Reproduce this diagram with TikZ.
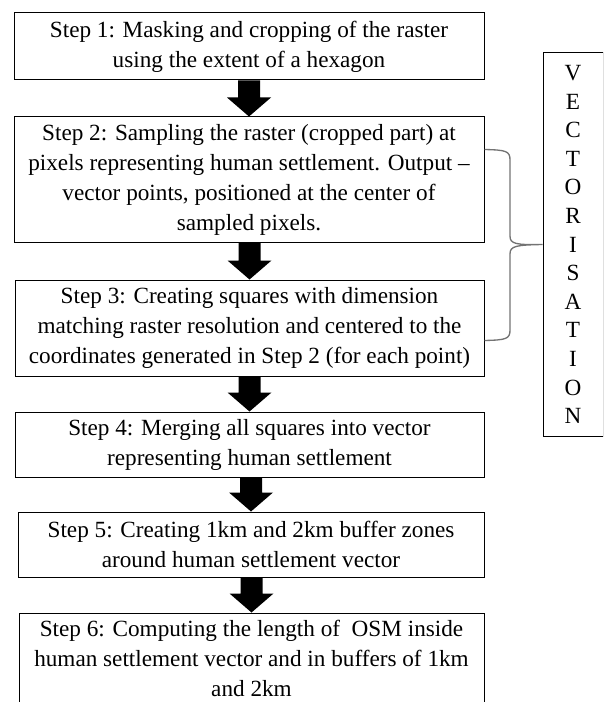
\documentclass[tikz,border=0pt]{standalone}
\usepackage{fontspec}
\setmainfont{Liberation Serif}
\usetikzlibrary{calc}

\tikzset{every picture/.style={line width=0.75pt}}

\begin{document}
\begin{tikzpicture}[x=0.75pt,y=0.75pt,yscale=-1,xscale=1,
		stepbox/.style={draw, align=center, inner sep=0pt, font={\fontsize{17.4pt}{22.5pt}\selectfont}},
		sidebox/.style={draw, align=center, inner sep=0pt, font={\fontsize{17.4pt}{21.45pt}\selectfont}},
		flowarrow/.style={fill=black},
		bracket/.style={draw=black!55, line width=1pt}]
		%set diagram size 603 x 702
		\path[use as bounding box, clip] (0,0) rectangle (603,702);
		
		% Text Node
		\node[stepbox, minimum width=352.5pt, minimum height=50.25pt] (s1) at (249,46.5) {Step 1: Masking and cropping of the raster\\using the extent of a hexagon};
		% Text Node
		\node[stepbox, minimum width=352.5pt, minimum height=93.75pt] (s2) at (249,179.5) {Step 2: Sampling the raster (cropped part) at\\pixels representing human settlement. Output --\\vector points, positioned at the center of\\sampled pixels.};
		% Text Node
		\node[stepbox, minimum width=351.75pt, minimum height=72pt] (s3) at (249.5,328) {Step 3: Creating squares with dimension\\matching raster resolution and centered to the\\coordinates generated in Step 2 (for each point)};
		% Text Node
		\node[stepbox, minimum width=351.75pt, minimum height=48.75pt] (s4) at (249.5,444.5) {Step 4: Merging all squares into vector\\representing human settlement};
		% Text Node
		\node[stepbox, minimum width=349.5pt, minimum height=48.75pt] (s5) at (251,544.5) {Step 5: Creating 1km and 2km buffer zones\\around human settlement vector};
		% Text Node
		\node[stepbox, minimum width=348.75pt, minimum height=67.5pt] (s6) at (251.5,658) {Step 6: Computing the length of \ OSM inside\\human settlement vector and in buffers of 1km\\and 2km};
		
		% Text Node
		\node[sidebox, minimum width=45pt, minimum height=287.25pt] (vec) at (573,244.5) {V\\E\\C\\T\\O\\R\\I\\S\\A\\T\\I\\O\\N};
		
		%Block Arrows
		\foreach \a/\b in {s1/s2, s2/s3, s3/s4, s4/s5, s5/s6}
		\fill[flowarrow] ($(\a.south -| \b.north)+(-11,0)$) -- ($(\a.south -| \b.north)+(11,0)$) -- ($(\b.north)+(11,-19)$) -- ($(\b.north)+(22,-19)$) -- (\b.north) -- ($(\b.north)+(-22,-19)$) -- ($(\b.north)+(-11,-19)$) -- cycle ;
		
		%Right Brace
		\coordinate (bt) at ($(s2.north east)+(0,33)$);
		\coordinate (bb) at ($(s3.south east)+(0,-36)$);
		\draw[bracket] (bt) .. controls (506,150) and (510,151) .. (510,160) -- (510,236) .. controls (510,244) and (516,245) .. (vec.west) .. controls (516,245) and (510,246) .. (510,254) -- (510,330) .. controls (510,339) and (506,340) .. (bb) ;
\end{tikzpicture}
\end{document}
